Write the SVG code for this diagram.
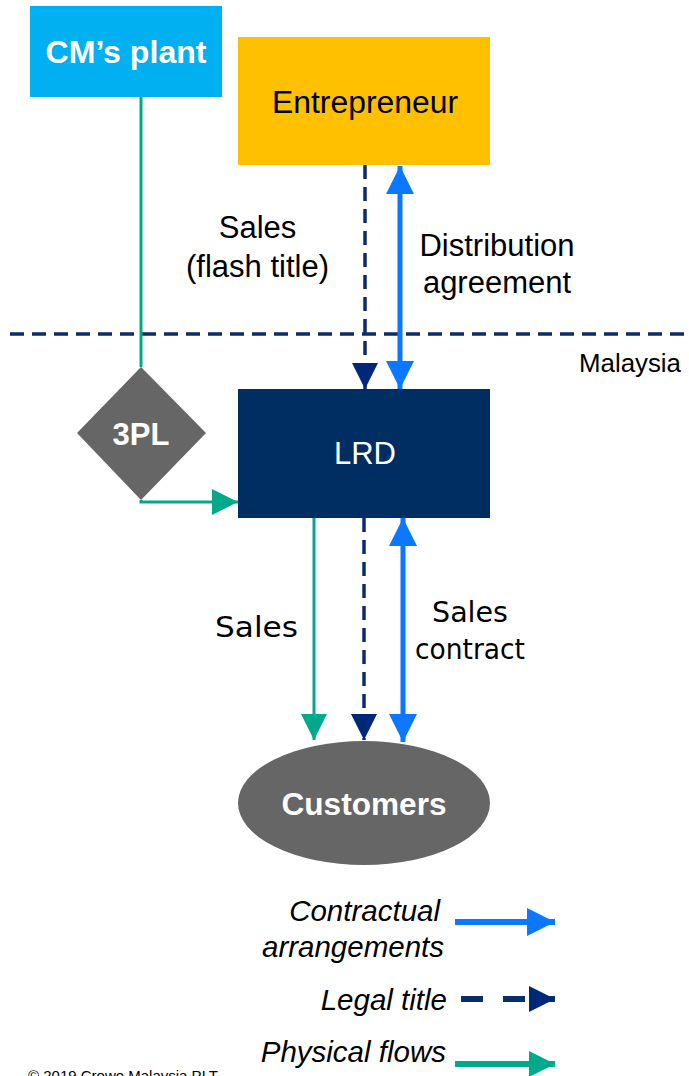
<svg xmlns="http://www.w3.org/2000/svg" width="689" height="1076" viewBox="0 0 689 1076">
  <style>
    .lbl { font-family: "Liberation Sans", Arial, sans-serif; font-size: 31px; fill: #000; text-anchor: middle; }
    .lbl2 { font-family: "DejaVu Sans", Verdana, sans-serif; font-size: 29px; fill: #000; text-anchor: middle; }
    .node { font-family: "Liberation Sans", Arial, sans-serif; font-size: 31px; text-anchor: middle; }
    .bold { font-weight: bold; fill: #fff; }
    .leg { font-family: "Liberation Sans", Arial, sans-serif; font-size: 29.5px; font-style: italic; text-anchor: end; fill: #000; }
    .phys { stroke: #00A98A; stroke-width: 3; fill: none; }
    .title { stroke: #0A2C6B; stroke-width: 3.5; stroke-dasharray: 14 8; fill: none; }
    .contract { stroke: #0B78FF; stroke-width: 5; fill: none; }
  </style>
  <defs>
    <marker id="headGreen" viewBox="0 0 10 10" refX="10" refY="5" markerUnits="userSpaceOnUse" markerWidth="26" markerHeight="26" orient="auto">
      <path d="M0,0 L10,5 L0,10 Z" fill="#00A98A"/>
    </marker>
    <marker id="headNavy" viewBox="0 0 10 10" refX="10" refY="5" markerUnits="userSpaceOnUse" markerWidth="27" markerHeight="26" orient="auto">
      <path d="M0,0 L10,5 L0,10 Z" fill="#002878"/>
    </marker>
    <marker id="headBlue" viewBox="0 0 10 10" refX="10" refY="5" markerUnits="userSpaceOnUse" markerWidth="28" markerHeight="28" orient="auto-start-reverse">
      <path d="M0,0 L10,5 L0,10 Z" fill="#0B78FF"/>
    </marker>
  </defs>

  <!-- border line -->
  <line x1="10" y1="334" x2="689" y2="334" stroke="#0A2C6B" stroke-width="3.5" stroke-dasharray="14 8"/>
  <text x="579" y="372" font-family="Liberation Sans, Arial, sans-serif" font-size="25" textLength="102" lengthAdjust="spacingAndGlyphs" fill="#000">Malaysia</text>

  <g id="connectors">
    <!-- physical flow: plant -> 3PL -> LRD -->
    <polyline class="phys" points="141,97 141,367"/>
    <polyline class="phys" points="141,500 141,502 238,502" marker-end="url(#headGreen)"/>
    <!-- legal title entrepreneur -> LRD -->
    <line class="title" x1="365" y1="165" x2="365" y2="389" marker-end="url(#headNavy)"/>
    <!-- distribution agreement -->
    <line class="contract" x1="400" y1="166" x2="400" y2="389" marker-start="url(#headBlue)" marker-end="url(#headBlue)"/>
    <!-- LRD -> customers -->
    <line class="phys" x1="314" y1="518" x2="314" y2="740" marker-end="url(#headGreen)"/>
    <line class="title" x1="364" y1="518" x2="364" y2="740" marker-end="url(#headNavy)"/>
    <line class="contract" x1="403" y1="518" x2="403" y2="742" marker-start="url(#headBlue)" marker-end="url(#headBlue)"/>
  </g>

  <g id="labels">
    <text class="lbl" x="257.5" y="238">Sales</text>
    <text class="lbl" x="257.5" y="277">(flash title)</text>
    <text class="lbl" x="497" y="256">Distribution</text>
    <text class="lbl" x="497" y="293">agreement</text>
    <text class="lbl2" x="256.5" y="637" font-size="30.5" textLength="83" lengthAdjust="spacingAndGlyphs">Sales</text>
    <text class="lbl2" x="470" y="622" textLength="76" lengthAdjust="spacingAndGlyphs">Sales</text>
    <text class="lbl2" x="470" y="659" textLength="110" lengthAdjust="spacingAndGlyphs">contract</text>
  </g>

  <g id="cm-plant">
    <rect x="30" y="6" width="192" height="91" fill="#00B0F0"/>
    <text class="node bold" x="126" y="63" font-size="30" textLength="161" lengthAdjust="spacingAndGlyphs">CM’s plant</text>
  </g>

  <g id="entrepreneur">
    <rect x="238" y="37" width="252" height="128" fill="#FFC000"/>
    <text class="node" x="365" y="113" font-size="32" textLength="186" lengthAdjust="spacingAndGlyphs" fill="#000">Entrepreneur</text>
  </g>

  <g id="three-pl">
    <polygon points="141,367 206,433 141,500 77,433" fill="#666666"/>
    <text class="node bold" x="141" y="445" font-size="32">3PL</text>
  </g>

  <g id="lrd">
    <rect x="238" y="389" width="252" height="129" fill="#002D62"/>
    <text class="node" x="365" y="464" fill="#fff">LRD</text>
  </g>

  <g id="customers">
    <ellipse cx="364" cy="803" rx="126" ry="62" fill="#666666"/>
    <text class="node bold" x="364" y="815" textLength="165" lengthAdjust="spacingAndGlyphs">Customers</text>
  </g>

  <g id="legend">
    <text class="leg" x="440" y="921">Contractual</text>
    <text class="leg" x="444" y="957">arrangements</text>
    <line x1="455" y1="922" x2="555" y2="922" stroke="#0B78FF" stroke-width="6" marker-end="url(#headBlue)"/>
    <text class="leg" x="447" y="1010">Legal title</text>
    <line x1="461" y1="999" x2="555" y2="999" stroke="#0A2C6B" stroke-width="6" stroke-dasharray="22 20" marker-end="url(#headNavy)"/>
    <text class="leg" x="446" y="1062">Physical flows</text>
    <line x1="455" y1="1064" x2="555" y2="1064" stroke="#00A98A" stroke-width="6" marker-end="url(#headGreen)"/>
  </g>

  <text x="28" y="1081" font-family="Liberation Sans, Arial, sans-serif" font-size="15" fill="#000">© 2019 Crowe Malaysia PLT</text>
</svg>
